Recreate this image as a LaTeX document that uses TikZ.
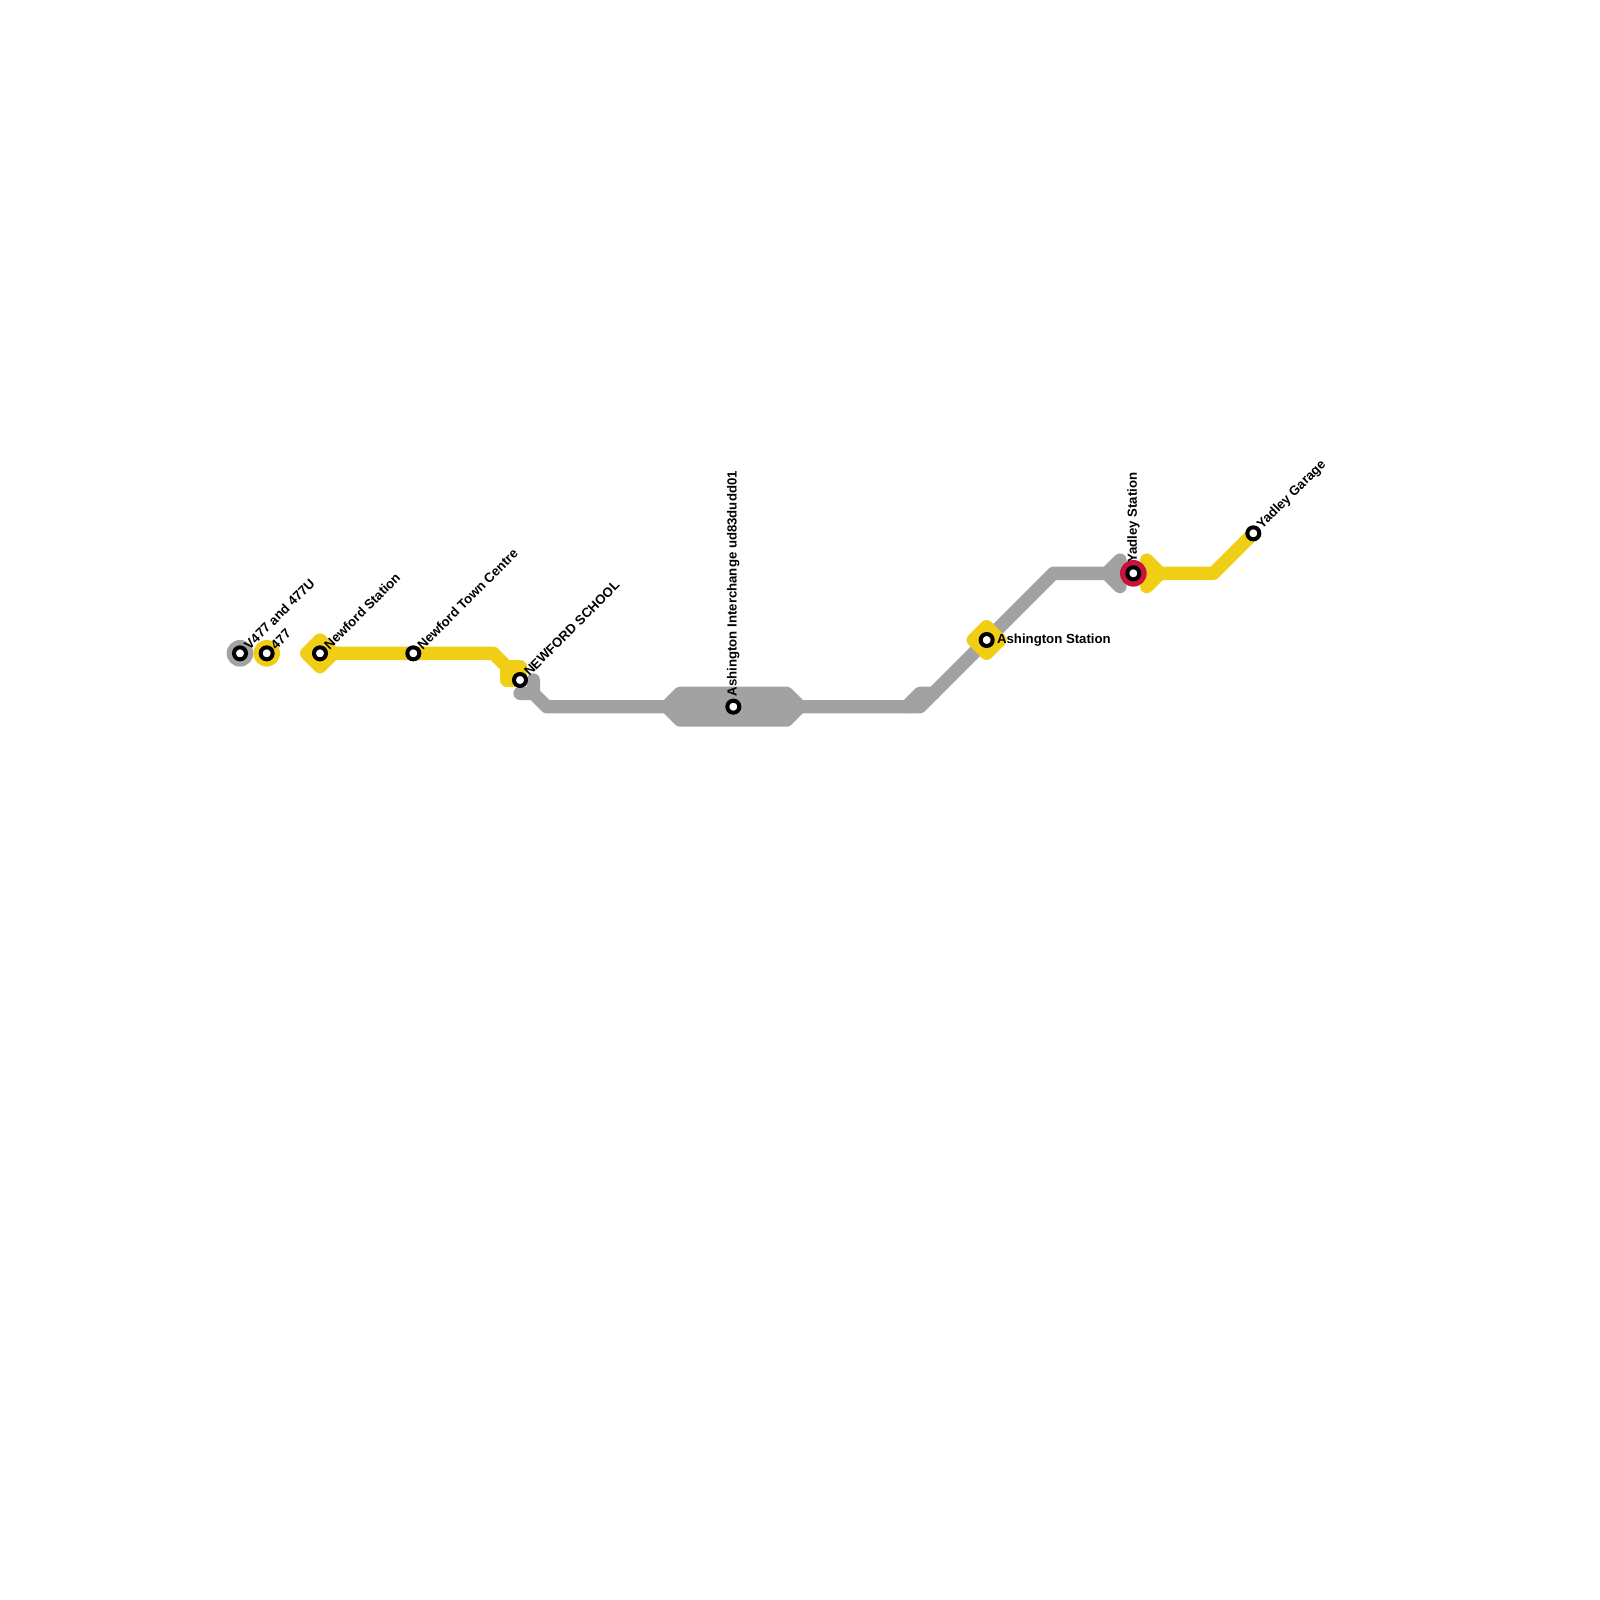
\documentclass[tikz,border=0pt]{standalone}
\usepackage{fontspec}
\setmainfont{Liberation Sans}
\usetikzlibrary{calc}
\definecolor{lineyellow}{HTML}{F0CE15}
\definecolor{linegrey}{HTML}{A2A2A2}
\definecolor{linered}{HTML}{C8143C}
\tikzset{
  x=0.5pt,y=-0.5pt,
  metro/.style={line width=6.667pt,line cap=round,line join=round},
  yl/.style={metro,draw=lineyellow},
  gy/.style={metro,draw=linegrey},
  yfill/.style={yl,fill=lineyellow},
  gfill/.style={gy,fill=linegrey},
  halo/.style={circle,minimum size=13.33pt,inner sep=0pt,draw=none},
  ring/.style={circle,minimum size=6pt,inner sep=0pt,line width=2pt,draw=black,fill=white},
  lab/.style={font=\bfseries\fontsize{6.6pt}{7.5pt}\selectfont,text=black,inner sep=0pt,anchor=west},
}
\begin{document}
\begin{tikzpicture}
\useasboundingbox (0,0) rectangle (1600,1600);
% station positions
\coordinate (sV) at (240,653.33);
\coordinate (sF) at (266.67,653.33);
\coordinate (sN) at (320,653.33);
\coordinate (sT) at (413.33,653.33);
\coordinate (sS) at (520,680);
\coordinate (sI) at (733.33,706.67);
\coordinate (sA) at (986.67,640);
\coordinate (sY) at (1133.33,573.33);
\coordinate (sG) at (1253.33,533.33);
% grey line
\draw[gy] (520,693.33) -- (533.33,693.33) -- (533.33,680) -- (533.33,693.33) -- (546.67,706.67) -- (666.67,706.67);
\draw[gfill] (666.67,706.67) -- (680,693.33) -- (786.67,693.33) -- (800,706.67) -- (786.67,720) -- (680,720) -- cycle;
\draw[gy] (800,706.67) -- (920,706.67) -- (1053.33,573.33) -- (1106.67,573.33);
\draw[gy] (906.67,706.67) -- (920,693.33) -- (933.33,693.33);
\draw[gfill] (1106.67,573.33) -- (1120,560) -- (1120,586.67) -- cycle;
% yellow line
\draw[yfill] (306.67,653.33) -- (320,640) -- (333.33,653.33) -- (320,666.67) -- cycle;
\draw[yl] (sN) -- (493.33,653.33) -- (506.67,666.67);
\draw[yfill] (506.67,666.67) -- (520,666.67) -- (sS) -- (506.67,680) -- cycle;
\draw[yfill] (973.33,640) -- (986.67,626.67) -- (1000,640) -- (986.67,653.33) -- cycle;
\draw[yfill] (1146.67,560) -- (1160,573.33) -- (1146.67,586.67) -- cycle;
\draw[yl] (1160,573.33) -- (1213.33,573.33) -- (sG);
% halos
\node[halo,fill=linegrey] (hV) at (sV) {};
\node[halo,fill=lineyellow] (hF) at (sF) {};
\node[halo,fill=linered] (hY) at (sY) {};
% rings
\foreach \n/\c in {rV/sV,rF/sF,rN/sN,rT/sT,rS/sS,rI/sI,rA/sA,rY/sY,rG/sG}{
  \node[ring] (\n) at (\c) {};
}
% labels
\node[lab,rotate=45] (tV) at ($(sV)+(6,-6)$) {V477 and 477U};
\node[lab,rotate=45] (tF) at ($(sF)+(6,-6)$) {477};
\node[lab,rotate=45] (tN) at ($(sN)+(6,-6)$) {Newford Station};
\node[lab,rotate=45] (tT) at ($(sT)+(6,-6)$) {Newford Town Centre};
\node[lab,rotate=45] (tS) at ($(sS)+(6,-6)$) {NEWFORD SCHOOL};
\node[lab,rotate=90] (tI) at ($(sI)+(0,-10)$) {Ashington Interchange ud83dudd01};
\node[lab] (tA) at ($(sA)+(10,0)$) {Ashington Station};
\node[lab,rotate=90] (tY) at ($(sY)+(0,-10)$) {Yadley Station};
\node[lab,rotate=45] (tG) at ($(sG)+(6,-6)$) {Yadley Garage};
\end{tikzpicture}
\end{document}
